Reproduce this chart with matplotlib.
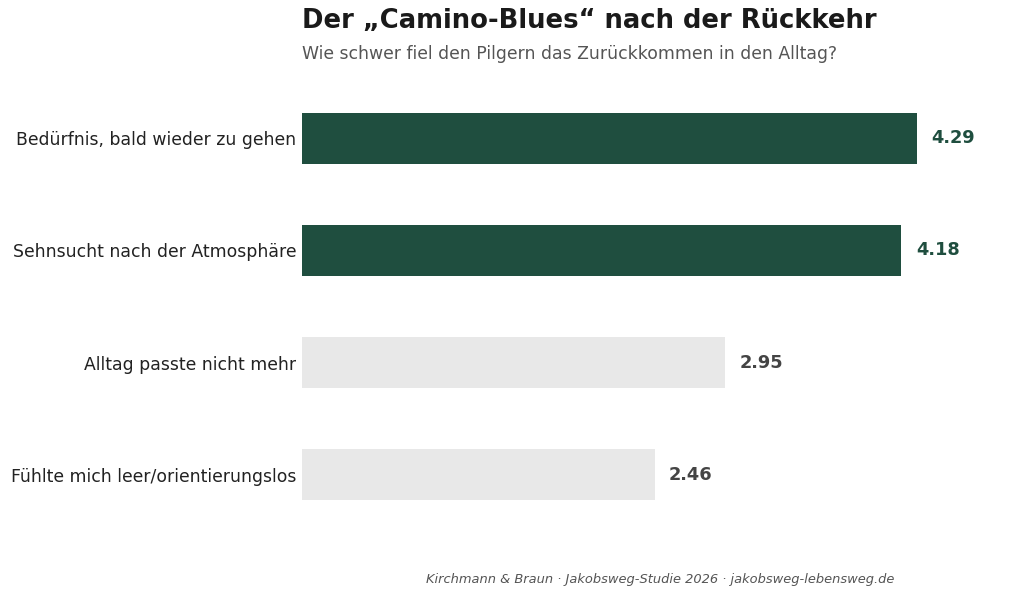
import matplotlib
matplotlib.use("Agg")
import matplotlib.pyplot as plt
import numpy as np

categories = ["Bedürfnis, bald wieder zu gehen", "Sehnsucht nach der Atmosphäre",
              "Alltag passte nicht mehr", "Fühlte mich leer/orientierungslos"]
values = [4.29, 4.18, 2.95, 2.46]
highlight = [True, True, False, False]

green = "#1f4e3f"
grey = "#e8e8e8"

fig = plt.figure(figsize=(10.30, 5.97), dpi=100)
ax = fig.add_axes([302 / 1030, 55 / 597, 717 / 1030, 471 / 597])

y = np.arange(len(categories))
colors = [green if h else grey for h in highlight]
bars = ax.barh(y, values, height=0.45, color=colors)

for b, v, h in zip(bars, values, highlight):
    ax.text(v + 0.1, b.get_y() + b.get_height() / 2, f"{v:.2f}", va="center", ha="left",
            fontsize=12.8, fontweight="bold", color=green if h else "#444444")

ax.set_xlim(0, 5)
ax.set_ylim(3.6, -0.6)
ax.set_yticks(y)
ax.set_yticklabels(categories, fontsize=12.4, color="#222222")
ax.tick_params(axis="y", length=0, pad=4)
ax.set_xticks([])
for s in ax.spines.values():
    s.set_visible(False)

fig.text(302 / 1030, 1 - 21 / 597, "Der „Camino-Blues“ nach der Rückkehr", fontsize=18.6,
         fontweight="bold", color="#1a1a1a", va="center", ha="left")
fig.text(302 / 1030, 1 - 54 / 597, "Wie schwer fiel den Pilgern das Zurückkommen in den Alltag?",
         fontsize=12.45, color="#555555", va="center", ha="left")
fig.text(894 / 1030, 1 - 579 / 597, "Kirchmann & Braun · Jakobsweg-Studie 2026 · jakobsweg-lebensweg.de",
         fontsize=9.35, style="italic", color="#555555", va="center", ha="right")

fig.savefig("out.png", dpi=100)
